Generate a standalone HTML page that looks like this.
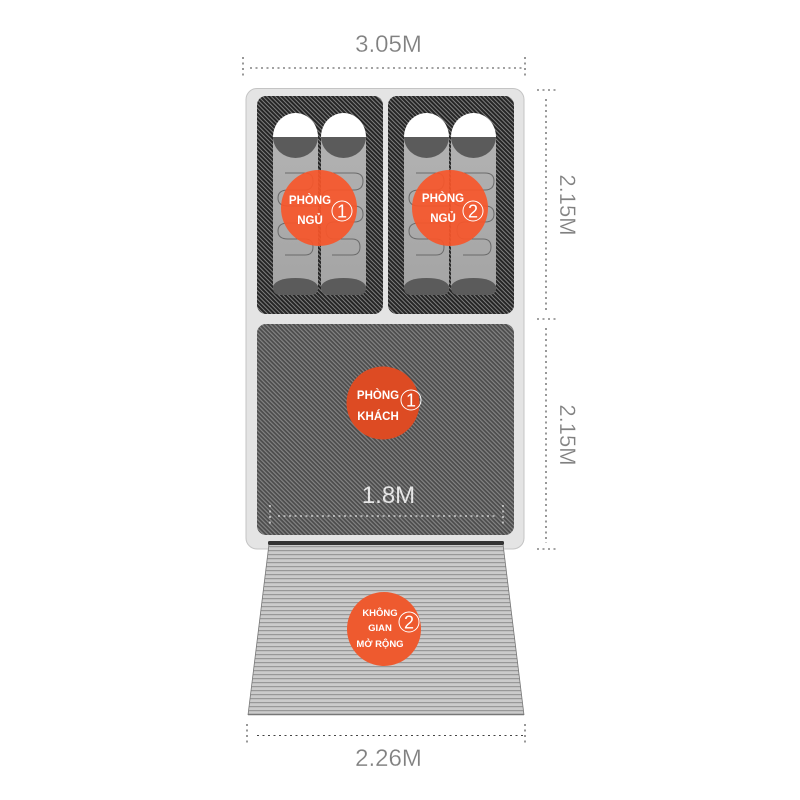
<!DOCTYPE html>
<html><head><meta charset="utf-8"><style>html,body{margin:0;padding:0;background:#fff}svg{display:block}
.d{font-family:"Liberation Sans",sans-serif;font-size:24px;fill:#808080;font-weight:normal;stroke:#fff;stroke-width:.25px}
.l{font-family:"Liberation Sans","DejaVu Sans",sans-serif;font-weight:bold;fill:#fff;text-anchor:middle}
.n{font-family:"Liberation Sans",sans-serif;font-size:18px;fill:#fff;text-anchor:middle}
</style></head><body>
<svg width="800" height="800" viewBox="0 0 800 800" xmlns="http://www.w3.org/2000/svg">
<defs>
<pattern id="h1" width="3" height="3" patternUnits="userSpaceOnUse" patternTransform="rotate(-45)"><rect width="3" height="3" fill="#252525"/><rect width="1" height="3" fill="#808080"/></pattern>
<pattern id="h2" width="3" height="3" patternUnits="userSpaceOnUse" patternTransform="rotate(-45)"><rect width="3" height="3" fill="#4c4c4c"/><rect width="1.200" height="3" fill="#848484"/></pattern>
<pattern id="st" width="4" height="4" patternUnits="userSpaceOnUse"><rect width="4" height="4" fill="#cbcbcb"/><rect y="2" width="4" height="1.200" fill="#989898"/></pattern>
<linearGradient id="m" x1="0" x2="0" y1="0" y2="1"><stop offset="0" stop-color="#b2b2b2"/><stop offset="1" stop-color="#a4a4a4"/></linearGradient>
<g id="mat">
<path d="M0 24H45V174Q45 182 37 182H8Q0 182 0 174Z" fill="url(#m)"/>
<path d="M0 24A22.500 24 0 0 1 45 24Z" fill="#fff"/>
<path d="M0 24H45A22.500 21 0 0 1 0 24Z" fill="#5b5b5b"/>
<path d="M0 173Q4 165 22.500 165T45 173V174Q45 182 37 182H8Q0 182 0 174Z" fill="#5b5b5b"/>
</g>
<g id="coil" fill="none" stroke="#6b6b6b" stroke-width="1">
<path d="M285 173H305Q313 173 313 181Q313 190 305 190H288Q278 190 278 198Q278 206 288 206H318"/>
<path d="M318 223H288Q278 223 278 231Q278 239 288 239H305Q313 239 313 247Q313 255 305 255H285"/>
<path d="M331 173H354Q363 173 363 181Q363 190 354 190H331Q322 190 322 198Q322 206 331 206H354Q363 206 363 214Q363 222 354 222H334Q326 222 326 230Q326 239 334 239H352Q360 239 360 247Q360 255 352 255H332"/>
</g>
</defs>
<rect width="800" height="800" fill="#fff"/>
<rect x="246" y="88.500" width="278" height="460.500" rx="11" fill="#e4e4e4" stroke="#c4c4c4" stroke-width="1"/>
<rect x="257" y="96" width="126" height="218" rx="9" fill="url(#h1)"/>
<rect x="388" y="96" width="126" height="218" rx="9" fill="url(#h1)"/>
<rect x="257" y="324" width="257" height="211" rx="9" fill="url(#h2)"/>
<g transform="translate(273,113)"><use href="#mat"/></g>
<g transform="translate(321,113)"><use href="#mat"/></g>
<g transform="translate(404,113)"><use href="#mat"/></g>
<g transform="translate(451,113)"><use href="#mat"/></g>
<use href="#coil"/>
<g transform="translate(131,0)"><use href="#coil"/></g>
<circle cx="319" cy="208" r="38" fill="#f7562a" fill-opacity=".92"/>
<circle cx="450" cy="208" r="38" fill="#f7562a" fill-opacity=".92"/>
<circle cx="383" cy="403" r="36.500" fill="#dd4b23"/>
<text class="l" x="310" y="204" font-size="11.500">PHÒNG</text>
<text class="l" x="310" y="224" font-size="11.500">NGỦ</text>
<circle cx="342" cy="211" r="10" fill="none" stroke="#fff" stroke-width="1"/>
<text class="n" x="342" y="217.500">1</text>
<text class="l" x="443" y="202" font-size="11.500">PHÒNG</text>
<text class="l" x="443" y="222" font-size="11.500">NGỦ</text>
<circle cx="473" cy="211" r="10" fill="none" stroke="#fff" stroke-width="1"/>
<text class="n" x="473" y="217.500">2</text>
<text class="l" x="378" y="399" font-size="11.500">PHÒNG</text>
<text class="l" x="378" y="420" font-size="11.500">KHÁCH</text>
<circle cx="411" cy="400" r="10" fill="none" stroke="#fff" stroke-width="1"/>
<text class="n" x="411" y="406.500">1</text>
<path d="M269 544H503L524 715H248Z" fill="url(#st)"/>
<path d="M269 544L248 715M503 544L524 715" stroke="#777" stroke-width=".8" fill="none"/>
<path d="M248 714.500H524" stroke="#777" stroke-width="1.500"/>
<rect x="268" y="541" width="236" height="4" rx="1.500" fill="#333"/>
<circle cx="384" cy="629" r="37" fill="#ee5a2f"/>
<text class="l" x="380" y="616" font-size="9.500">KHÔNG</text>
<text class="l" x="380" y="631" font-size="9.500">GIAN</text>
<text class="l" x="380" y="647" font-size="9.500">MỞ RỘNG</text>
<circle cx="409" cy="622" r="10" fill="none" stroke="#fff" stroke-width="1"/>
<text class="n" x="409" y="628.500">2</text>
<g fill="none" stroke="#444" stroke-width="1.100" stroke-dasharray="2 3.500">
<path d="M250 68H525M243 57V79M525 57V79"/>
<path d="M257 735.500H524M247 724V746M525 724V746"/>
<path d="M546 99V312M537 90H556M537 319H556"/>
<path d="M546 328V543M537 549H556"/>
</g>
<g fill="none" stroke="#fff" stroke-width="1.100" stroke-dasharray="2 3.500">
<path d="M278 516H498M270 505V527M503 505V527"/>
</g>
<text class="d" x="388.500" y="52" text-anchor="middle">3.05M</text>
<text class="d" x="388.500" y="766" text-anchor="middle">2.26M</text>
<text class="d" x="388.500" y="503" text-anchor="middle" style="fill:#e6e6e6;stroke:none">1.8M</text>
<text class="d" style="font-size:22px" transform="translate(560,205) rotate(90)" text-anchor="middle">2.15M</text>
<text class="d" style="font-size:22px" transform="translate(560,435) rotate(90)" text-anchor="middle">2.15M</text>
</svg>
</body></html>
